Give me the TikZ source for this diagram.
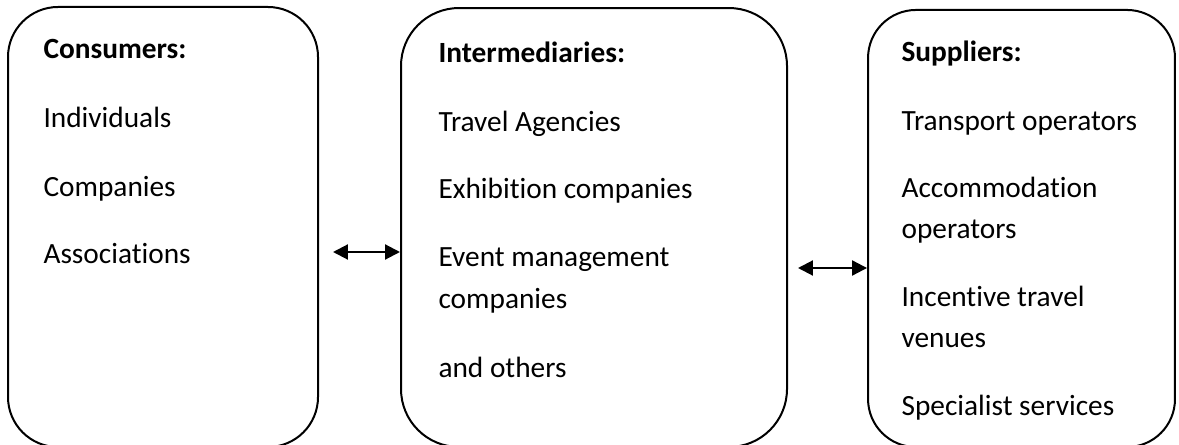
\documentclass[tikz,border=0pt]{standalone}
\usepackage{fontspec}
\setmainfont{Carlito}[Ligatures=NoCommon]
\usetikzlibrary{arrows.meta}

\begin{document}
\begin{tikzpicture}[x=0.375pt,y=-0.375pt,font=\fontsize{11}{13}\selectfont,
    box/.style={draw,line width=0.75pt,inner sep=0pt},
    item/.style={anchor=base west,inner sep=0pt},
    head/.style={item,font=\fontsize{11}{13}\selectfont\bfseries},
    link/.style={{Triangle[length=5.6pt,width=5.6pt]}-{Triangle[length=5.6pt,width=5.6pt]},line width=0.8pt}]
    \useasboundingbox (0,0) rectangle (1179,445);
    \node[box,rounded corners=18.75pt,minimum width=116.25pt,minimum height=165pt] (cons) at (163,227) {};
    \node[box,rounded corners=21.75pt,minimum width=144.75pt,minimum height=164.6pt] (inter) at (594,227.5) {};
    \node[box,rounded corners=18pt,minimum width=115.1pt,minimum height=163.9pt] (supp) at (1021.5,228.5) {};

    \node[head] (consh) at (43,59) {Consumers:};
    \node[item] (cons1) at (43,128) {Individuals};
    \node[item] (cons2) at (43,197) {Companies};
    \node[item] (cons3) at (43,263) {Associations};

    \node[head] (interh) at (438,63) {Intermediaries:};
    \node[item] (inter1) at (438,132) {Travel Agencies};
    \node[item] (inter2) at (438,199) {Exhibition companies};
    \node[item] (inter3) at (438,267) {Event management};
    \node[item] (inter3b) at (438,308) {companies};
    \node[item] (inter4) at (438,377) {and others};

    \node[head] (supph) at (901,62) {Suppliers:};
    \node[item] (supp1) at (901,131) {Transport operators};
    \node[item] (supp2) at (901,198) {Accommodation};
    \node[item] (supp2b) at (901,239) {operators};
    \node[item] (supp3) at (901,306) {Incentive travel};
    \node[item] (supp3b) at (901,347) {venues};
    \node[item] (supp4) at (901,415) {Specialist services};

    \draw[link,shorten <=5.25pt] (cons.east |- 0,252) -- (inter.west |- 0,252);
    \draw[link,shorten <=3.75pt] (inter.east |- 0,268) -- (supp.west |- 0,268);
\end{tikzpicture}
\end{document}
